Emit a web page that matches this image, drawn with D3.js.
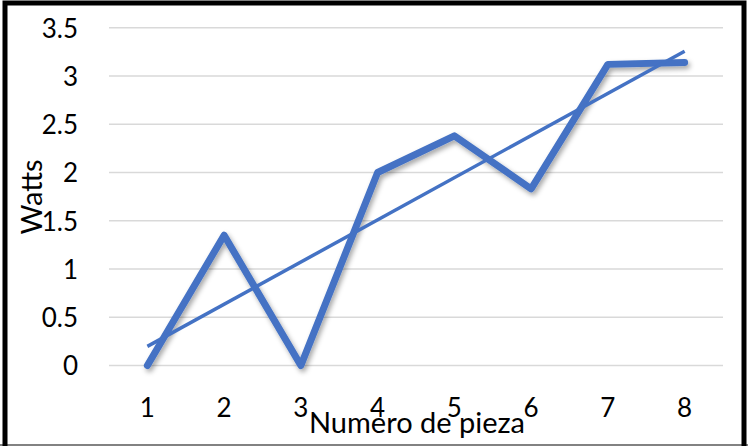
<!DOCTYPE html>
<html>
<head>
<meta charset="utf-8">
<script src="https://cdn.jsdelivr.net/npm/d3@7"></script>
<style>
  body { margin: 0; background: #fff; }
  text { font-family: Lato, "Open Sans", sans-serif; fill: #000; }
</style>
</head>
<body>
<div id="chart"></div>
<script>
// chart data
const pieces = [1, 2, 3, 4, 5, 6, 7, 8];
const watts = [0, 1.35, 0, 2.0, 2.38, 1.83, 3.12, 3.14];
const yTicks = [0, 0.5, 1, 1.5, 2, 2.5, 3, 3.5];

const W = 748, H = 446;
const plot = { left: 109, right: 723, top: 27.7, bottom: 365.5 };

const svg = d3.select('#chart').append('svg')
  .attr('width', W)
  .attr('height', H);

// drop shadow for the main series
const defs = svg.append('defs');
const f = defs.append('filter').attr('id', 'shadow')
  .attr('x', '-10%').attr('y', '-10%').attr('width', '120%').attr('height', '130%');
f.append('feDropShadow')
  .attr('dx', 2).attr('dy', 3).attr('stdDeviation', 2.5)
  .attr('flood-color', '#000').attr('flood-opacity', 0.35);

const x = d3.scaleBand()
  .domain(pieces)
  .range([plot.left, plot.right]);

const y = d3.scaleLinear()
  .domain([0, 3.5])
  .range([plot.bottom, plot.top]);

// gridlines
svg.append('g')
  .selectAll('line')
  .data(yTicks)
  .enter().append('line')
  .attr('x1', plot.left)
  .attr('x2', plot.right)
  .attr('y1', d => y(d))
  .attr('y2', d => y(d))
  .attr('stroke', '#d9d9d9')
  .attr('stroke-width', 1.5);

// y axis labels
const yAxis = svg.append('g')
  .attr('transform', `translate(78,0)`)
  .call(d3.axisLeft(y).tickValues(yTicks).tickSize(0).tickPadding(0).tickFormat(d3.format('')));
yAxis.select('.domain').remove();
yAxis.selectAll('text')
  .style('font-size', '26px')
  .attr('dy', '0.36em');

// x axis labels
const xAxis = svg.append('g')
  .attr('transform', `translate(0,${plot.bottom})`)
  .call(d3.axisBottom(x).tickSize(0).tickPadding(0));
xAxis.select('.domain').remove();
xAxis.selectAll('text')
  .style('font-size', '26px')
  .attr('y', 51.5)
  .attr('dy', 0);

const cx = d => x(d) + x.bandwidth() / 2;

// main series
const line = d3.line()
  .x((d, i) => cx(pieces[i]))
  .y(d => y(d));

svg.append('path')
  .datum(watts)
  .attr('d', line)
  .attr('fill', 'none')
  .attr('stroke', '#4472C4')
  .attr('stroke-width', 7)
  .attr('stroke-linejoin', 'round')
  .attr('stroke-linecap', 'round')
  .attr('filter', 'url(#shadow)');

// linear trendline (least squares)
const mx = d3.mean(pieces), my = d3.mean(watts);
const slope = d3.sum(pieces, (p, i) => (p - mx) * (watts[i] - my)) / d3.sum(pieces, p => (p - mx) * (p - mx));
const intercept = my - slope * mx;
const ends = [pieces[0], pieces[pieces.length - 1]];

svg.append('path')
  .datum(ends)
  .attr('d', d3.line().x(p => cx(p)).y(p => y(intercept + slope * p)))
  .attr('fill', 'none')
  .attr('stroke', '#4472C4')
  .attr('stroke-width', 3.5);

// axis titles
svg.append('text')
  .attr('x', (plot.left + plot.right) / 2 + 1)
  .attr('y', 433)
  .attr('text-anchor', 'middle')
  .style('font-size', '29px')
  .text('Numero de pieza');

svg.append('text')
  .attr('transform', 'translate(42,197) rotate(-90)')
  .attr('text-anchor', 'middle')
  .style('font-size', '29px')
  .text('Watts');

// frame
svg.append('line')
  .attr('x1', 0).attr('x2', W).attr('y1', 445).attr('y2', 445)
  .attr('stroke', '#595959').attr('stroke-width', 1.5);
svg.append('path')
  .attr('d', `M5,446 V3 H744 V446`)
  .attr('fill', 'none')
  .attr('stroke', '#000')
  .attr('stroke-width', 5);
</script>
</body>
</html>
